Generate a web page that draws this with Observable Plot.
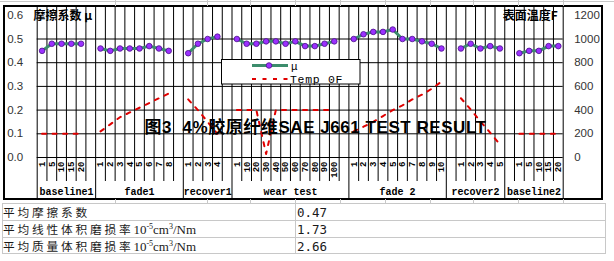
<!DOCTYPE html>
<html><head><meta charset="utf-8">
<script src="https://cdn.jsdelivr.net/npm/d3@7"></script>
<script src="https://cdn.jsdelivr.net/npm/@observablehq/plot@0.6"></script>
<style>
body{margin:0;background:#fff;}
#wrap{position:relative;width:614px;height:261px;overflow:hidden;background:#fff;}
#chart{position:absolute;left:0;top:0;}
.hl{position:absolute;height:1px;background:#c8c8c8;}
.vl{position:absolute;width:1px;background:#c8c8c8;}
.cell{position:absolute;height:17px;line-height:17px;font-family:"Noto Sans CJK SC";font-size:11.7px;color:#1a1a1a;white-space:nowrap;}
.cell .cjk{letter-spacing:2.8px;}
.cell .lat{font-family:"Liberation Serif";font-size:13px;}
.cell sup{font-size:8px;vertical-align:5px;line-height:0;}
.cell .num{font-family:"DejaVu Sans Mono";font-size:12.5px;}
</style></head>
<body><div id="wrap"><div id="chart"></div></div>
<script>
// ---------- data ----------
const groups = ["baseline1","fade1","recover1","wear test","fade 2","recover2","baseline2"];
const catLabels = [
  ["1","5","10","15","20",""],
  ["1","2","3","4","5","6","7","8",""],
  ["1","2","3","4",""],
  ["1","10","20","30","40","50","60","70","80","90","100",""],
  ["1","2","3","4","5","6","7","8","9","10"],
  ["","1","2","3","4","5"],
  ["","1","5","10","15","20"]
];
const muValues = [
  [0.45,0.48,0.48,0.48,0.48,null],
  [0.46,0.45,0.46,0.46,0.46,0.47,0.46,0.45,null],
  [0.44,0.48,0.50,0.51,null],
  [0.50,0.48,0.48,0.49,0.49,0.48,0.49,0.47,0.47,0.48,0.49,null],
  [0.50,0.52,0.53,0.53,0.54,0.50,0.50,0.49,0.48,0.46],
  [null,0.46,0.48,0.46,0.47,0.46],
  [null,0.44,0.45,0.45,0.47,0.47]
];
const tempValues = [
  [200,200,200,200,200,null],
  [220,280,340,380,420,460,500,540,null],
  [490,400,300,200,null],
  [400,400,400,30,400,400,400,400,400,400,400,null],
  [220,260,300,350,400,440,490,530,580,640],
  [null,500,405,305,210,110],
  [null,200,200,200,200,200]
];
const leftTicks = [0,0.1,0.2,0.3,0.4,0.5,0.6];
const rightTicks = [0,200,400,600,800,1000,1200];
const leftTitle = "摩擦系数 μ";
const rightTitle = "表面温度F";
const chartTitle = "图3  4%胶原纤维SAE J661 TEST RESULT";
const legendNames = ["μ","Temp 0F"];
const tableNames = ["平均摩擦系数","平均线性体积磨损率","平均质量体积磨损率"];
const tableUnits = ["","10<sup>-5</sup>cm<sup>3</sup>/Nm","10<sup>-5</sup>cm<sup>3</sup>/Nm"];
const tableValues = ["0.47","1.73","2.66"];

// ---------- build ----------
const rows = [], seps = [0], gcent = [];
let n = 0;
groups.forEach((g, gi) => {
  const start = n;
  catLabels[gi].forEach((lab, k) => {
    rows.push({xc: n + 0.5, label: lab, mu: muValues[gi][k], temp: tempValues[gi][k]});
    n++;
  });
  seps.push(n);
  gcent.push({name: g, xc: (start + n) / 2});
});
const inner = d3.range(1, n).filter(k => !seps.includes(k));
const PX = 237;               // pixels per unit of mu
const yTop = (157 - 6) / PX;
const green = "#3c8d6c", red = "#e00000";
const mono = "Liberation Mono";

const plot = Plot.plot({
  width: 614, height: 200,
  marginLeft: 36.7, marginRight: 51.3, marginTop: 6, marginBottom: 43,
  style: {background: "transparent", overflow: "visible"},
  x: {type: "linear", domain: [0, n], axis: null},
  y: {domain: [0, yTop]},
  marks: [
    Plot.ruleY([0.1,0.2,0.3,0.4,0.5,0], {stroke: "#000", strokeWidth: 1}),
    Plot.ruleX(inner, {x: d => d, y1: -24 / PX, y2: yTop, stroke: "#000"}),
    Plot.ruleX(seps, {x: d => d, y1: -42 / PX, y2: yTop, stroke: "#000"}),
    Plot.line(rows, {x: "xc", y: d => d.temp == null ? NaN : d.temp / 2000, stroke: red, strokeWidth: 2, strokeDasharray: "4,6.5"}),
    Plot.line(rows, {x: "xc", y: d => d.mu == null ? NaN : d.mu, stroke: green, strokeWidth: 3}),
    Plot.dot(rows.filter(d => d.mu != null), {x: "xc", y: "mu", r: 2.8, fill: "#9b30ff", stroke: "#4b0f8a", strokeWidth: 0.8}),
    Plot.axisY(leftTicks, {anchor: "left", tickSize: 0, tickPadding: 14, tickFormat: d3.format(".1f"), fontSize: 11.5, fontFamily: "Liberation Sans", color: "#333", label: null}),
    Plot.axisY(rightTicks.map(t => t / 2000), {anchor: "right", tickSize: 0, tickPadding: 11, tickFormat: d => String(Math.round(d * 2000)), fontSize: 11.5, fontFamily: "Liberation Sans", color: "#333", label: null}),
    Plot.text(rows.filter(d => d.label), {x: "xc", text: "label", frameAnchor: "bottom", rotate: -90, textAnchor: "end", lineAnchor: "middle", dy: 4, fontSize: 9, fontWeight: "bold", fontFamily: mono, fill: "#000"}),
    Plot.text(gcent, {x: "xc", text: "name", frameAnchor: "bottom", dy: 34.5, lineAnchor: "middle", fontSize: 10, fontWeight: "bold", fontFamily: mono, fill: "#000"}),
    Plot.text([leftTitle], {frameAnchor: "top-left", dx: -3.7, dy: 13, textAnchor: "start", lineAnchor: "bottom", fontSize: 12, fontWeight: "bold", fontFamily: "Noto Sans CJK SC", fill: "#000"}),
    Plot.text([rightTitle], {frameAnchor: "top-right", dx: -5.5, dy: 13, textAnchor: "end", lineAnchor: "bottom", fontSize: 12, fontWeight: "bold", fontFamily: "Noto Sans CJK SC", fill: "#000"}),
    Plot.text([chartTitle], {frameAnchor: "middle", dx: 15.3, dy: 50.5, textAnchor: "middle", lineAnchor: "bottom", fontSize: 17, fontWeight: "bold", fontFamily: "'Liberation Sans','Noto Sans CJK SC'", fill: "#000"})
  ]
});
document.getElementById("chart").appendChild(plot);
const svg = d3.select(plot);
svg.selectAll("text").filter(function() { return this.textContent === chartTitle; }).attr("letter-spacing", 0.55);

// background + legend + frame
svg.insert("rect", ":first-child").attr("x", 4).attr("y", 6).attr("width", 598).attr("height", 193).attr("fill", "#fff");
const lg = svg.append("g");
lg.append("rect").attr("x", 221.5).attr("y", 59.5).attr("width", 138.5).attr("height", 24.5).attr("fill", "#fff").attr("stroke", "#000");
lg.append("line").attr("x1", 252).attr("x2", 288).attr("y1", 65.5).attr("y2", 65.5).attr("stroke", green).attr("stroke-width", 3);
lg.append("circle").attr("cx", 269).attr("cy", 65.5).attr("r", 2.8).attr("fill", "#9b30ff").attr("stroke", "#4b0f8a").attr("stroke-width", 0.8);
lg.append("line").attr("x1", 252).attr("x2", 288).attr("y1", 79).attr("y2", 79).attr("stroke", red).attr("stroke-width", 2).attr("stroke-dasharray", "4,6.5");
lg.append("text").attr("x", 291).attr("y", 69.5).style("text-anchor", "start").attr("font-family", mono).attr("font-size", 11).attr("fill", "#000").text(legendNames[0]);
lg.append("text").attr("x", 290).attr("y", 82.5).style("text-anchor", "start").attr("font-family", mono).attr("font-size", 11.5).attr("letter-spacing", 0.7).attr("fill", "#000").text(legendNames[1]);
svg.append("rect").attr("x", 4).attr("y", 6).attr("width", 598).attr("height", 193).attr("fill", "none").attr("stroke", "#000").attr("stroke-width", 2);

// spreadsheet grid + table
const wrap = document.getElementById("wrap");
function addTop(cls, css, html) { const d = document.createElement("div"); d.className = cls; Object.assign(d.style, css); if (html != null) d.innerHTML = html; wrap.appendChild(d); return d; }
addTop("hl", {left: "0px", top: "1px", width: "614px"});
[115, 207, 250, 295, 340, 385, 430, 473, 518, 563].forEach(x => {
  addTop("vl", {left: x + "px", top: "0px", height: "6px"});
  addTop("vl", {left: x + "px", top: "199px", height: "4px"});
});
const rowTops = [203, 220, 237, 253];
rowTops.forEach(y => addTop("hl", {left: "2px", top: y + "px", width: "604px"}));
[2, 295, 605].forEach(x => addTop("vl", {left: x + "px", top: "203px", height: "50px"}));
tableNames.forEach((nm, r) => {
  addTop("cell", {left: "3px", top: rowTops[r] + "px"}, `<span class="cjk">${nm}</span><span class="lat">${tableUnits[r]}</span>`);
  addTop("cell", {left: "297px", top: rowTops[r] + "px"}, `<span class="num">${tableValues[r]}</span>`);
});
</script></body></html>
